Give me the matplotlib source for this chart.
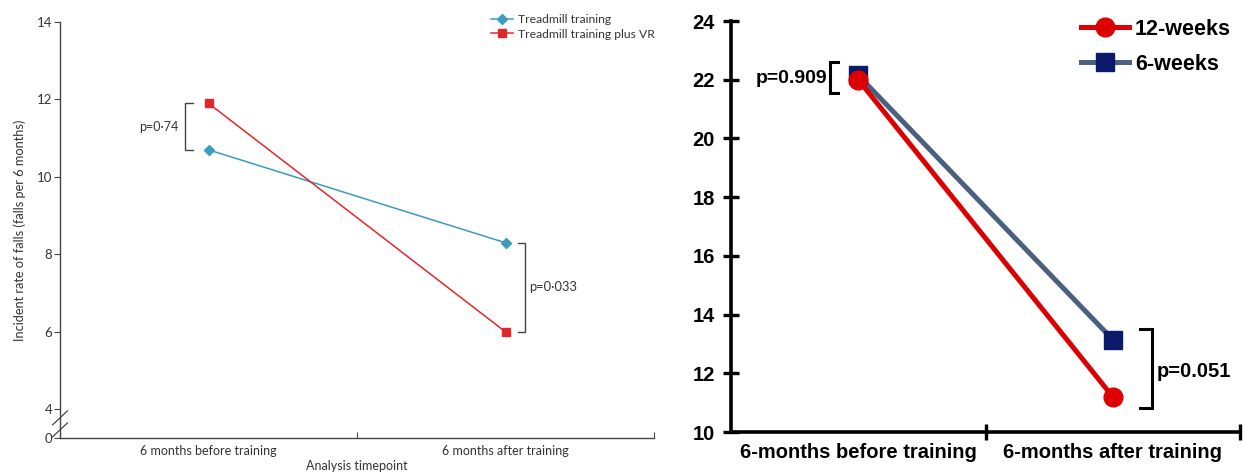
import matplotlib
matplotlib.use("Agg")
import matplotlib.pyplot as plt

# ---- data: left panel ----
left_categories = ["6 months before training", "6 months after training"]
treadmill = [10.7, 8.3]
treadmill_vr = [11.9, 6.0]
left_yticks = [4, 6, 8, 10, 12, 14]
left_p_before = "p=0·74"
left_p_after = "p=0·033"

# ---- data: right panel ----
right_categories = ["6-months before training", "6-months after training"]
weeks12 = [22.0, 11.2]
weeks6 = [22.15, 13.15]
right_yticks = [10, 12, 14, 16, 18, 20, 22, 24]
right_p_before = "p=0.909"
right_p_after = "p=0.051"

W, H = 1243, 474
fig = plt.figure(figsize=(W / 100, H / 100), dpi=100)

def fx(px):
    return px / W

def fy(py):
    return 1 - py / H

# ================= LEFT PANEL =================
lfont = "Lato"
tc = "#333333"
axL = fig.add_axes([fx(60), fy(438), fx(654) - fx(60), fy(22) - fy(438)])
xpos = [0.5, 1.5]
axL.plot(xpos, treadmill, color="#3a9cc0", lw=1.1, marker="D", ms=5,
         label="Treadmill training", zorder=3)
axL.plot(xpos, treadmill_vr, color="#e0282c", lw=1.1, marker="s", ms=5.5,
         label="Treadmill training plus VR", zorder=3)
axL.set_xlim(0, 2)
ybot = 3.26
axL.set_ylim(ybot, 14)
axL.set_yticks([ybot] + left_yticks)
axL.set_yticklabels(["0"] + [str(v) for v in left_yticks], fontfamily=lfont, fontsize=9.5, color=tc)
axL.set_xticks([0, 1, 2])
axL.set_xticklabels([])
axL.set_xticks(xpos, minor=True)
axL.set_xticklabels(left_categories, minor=True, fontfamily=lfont, fontsize=9, color=tc)
axL.tick_params(axis="x", which="minor", length=0, pad=5)
axL.tick_params(axis="x", which="major", length=4, color="#444444", direction="in")
axL.tick_params(axis="y", length=4, color="#444444", pad=1.5)
for s in ["top", "right"]:
    axL.spines[s].set_visible(False)
for s in ["left", "bottom"]:
    axL.spines[s].set_color("#444444")
    axL.spines[s].set_linewidth(1.0)
axL.set_ylabel("Incident rate of falls (falls per 6 months)", fontfamily=lfont, fontsize=9.2,
               color=tc, labelpad=8)
axL.set_xlabel("Analysis timepoint", fontfamily=lfont, fontsize=9, color=tc, labelpad=2)

# axis break marks
for yb in [3.78, 3.47]:
    axL.plot([-0.025, 0.025], [yb - 0.18, yb + 0.18], color="#444444", lw=0.9, clip_on=False)

# brackets
def bracket(ax, xv, xa, y0, y1, lw, color):
    ax.plot([xa, xv, xv, xa], [y0, y0, y1, y1], color=color, lw=lw, clip_on=False,
            solid_joinstyle="miter")

bracket(axL, 0.421, 0.448, treadmill[0], treadmill_vr[0], 1.0, "#444444")
axL.text(0.398, (treadmill[0] + treadmill_vr[0]) / 2, left_p_before, ha="right", va="center",
         fontfamily=lfont, fontsize=9, color=tc)
bracket(axL, 1.566, 1.542, treadmill_vr[1], treadmill[1], 1.0, "#444444")
axL.text(1.578, (treadmill[1] + treadmill_vr[1]) / 2, left_p_after, ha="left", va="center",
         fontfamily=lfont, fontsize=9.3, color=tc)

legL = axL.legend(loc="upper right", bbox_to_anchor=(fx(655), fy(14)), bbox_transform=fig.transFigure,
                  frameon=False, prop={"family": lfont, "size": 8.7}, handlelength=1.8,
                  handletextpad=0.45, labelspacing=0.3, borderaxespad=0, borderpad=0)
for t in legL.get_texts():
    t.set_color(tc)

# ================= RIGHT PANEL =================
rfont = "Liberation Sans"
axR = fig.add_axes([fx(731), fy(432), fx(1240) - fx(731), fy(21) - fy(432)])
axR.plot(xpos, weeks6, color="#4b6080", lw=3.6, marker="s", ms=13,
         mfc="#0b1a6a", mec="#0b1a6a", label="6-weeks", zorder=3)
axR.plot(xpos, weeks12, color="#dd0000", lw=3.6, marker="o", ms=13.5,
         mfc="#dd0000", mec="#dd0000", label="12-weeks", zorder=4)
axR.set_xlim(0, 2)
axR.set_ylim(10, 24)
axR.set_yticks(right_yticks)
axR.set_yticklabels([str(v) for v in right_yticks], fontfamily=rfont, fontweight="bold", fontsize=14.5)
axR.set_xticks([1, 2])
axR.set_xticklabels([])
axR.set_xticks(xpos, minor=True)
axR.set_xticklabels(right_categories, minor=True, fontfamily=rfont, fontweight="bold", fontsize=14.5)
axR.tick_params(axis="x", which="minor", length=0, pad=8)
axR.tick_params(axis="x", which="major", direction="inout", length=11, width=2.4)
axR.tick_params(axis="y", direction="inout", length=11, width=2.4, pad=6)
for s in ["top", "right"]:
    axR.spines[s].set_visible(False)
for s in ["left", "bottom"]:
    axR.spines[s].set_linewidth(2.6)
    axR.spines[s].set_color("black")

bracket(axR, 0.389, 0.42, 21.55, 22.6, 2.2, "black")
axR.text(0.377, 22.05, right_p_before, ha="right", va="center",
         fontfamily=rfont, fontweight="bold", fontsize=14)
bracket(axR, 1.654, 1.607, 10.81, 13.5, 2.2, "black")
axR.text(1.674, 12.07, right_p_after, ha="left", va="center",
         fontfamily=rfont, fontweight="bold", fontsize=14.5)

handles, labels = axR.get_legend_handles_labels()
legR = axR.legend(handles[::-1], labels[::-1], loc="upper right",
                  bbox_to_anchor=(fx(1231), fy(19)), bbox_transform=fig.transFigure,
                  frameon=False, prop={"family": rfont, "weight": "bold", "size": 15.5},
                  handlelength=2.2, handletextpad=0.3, labelspacing=0.65, borderaxespad=0,
                  borderpad=0)

fig.savefig("out.png", dpi=100)
